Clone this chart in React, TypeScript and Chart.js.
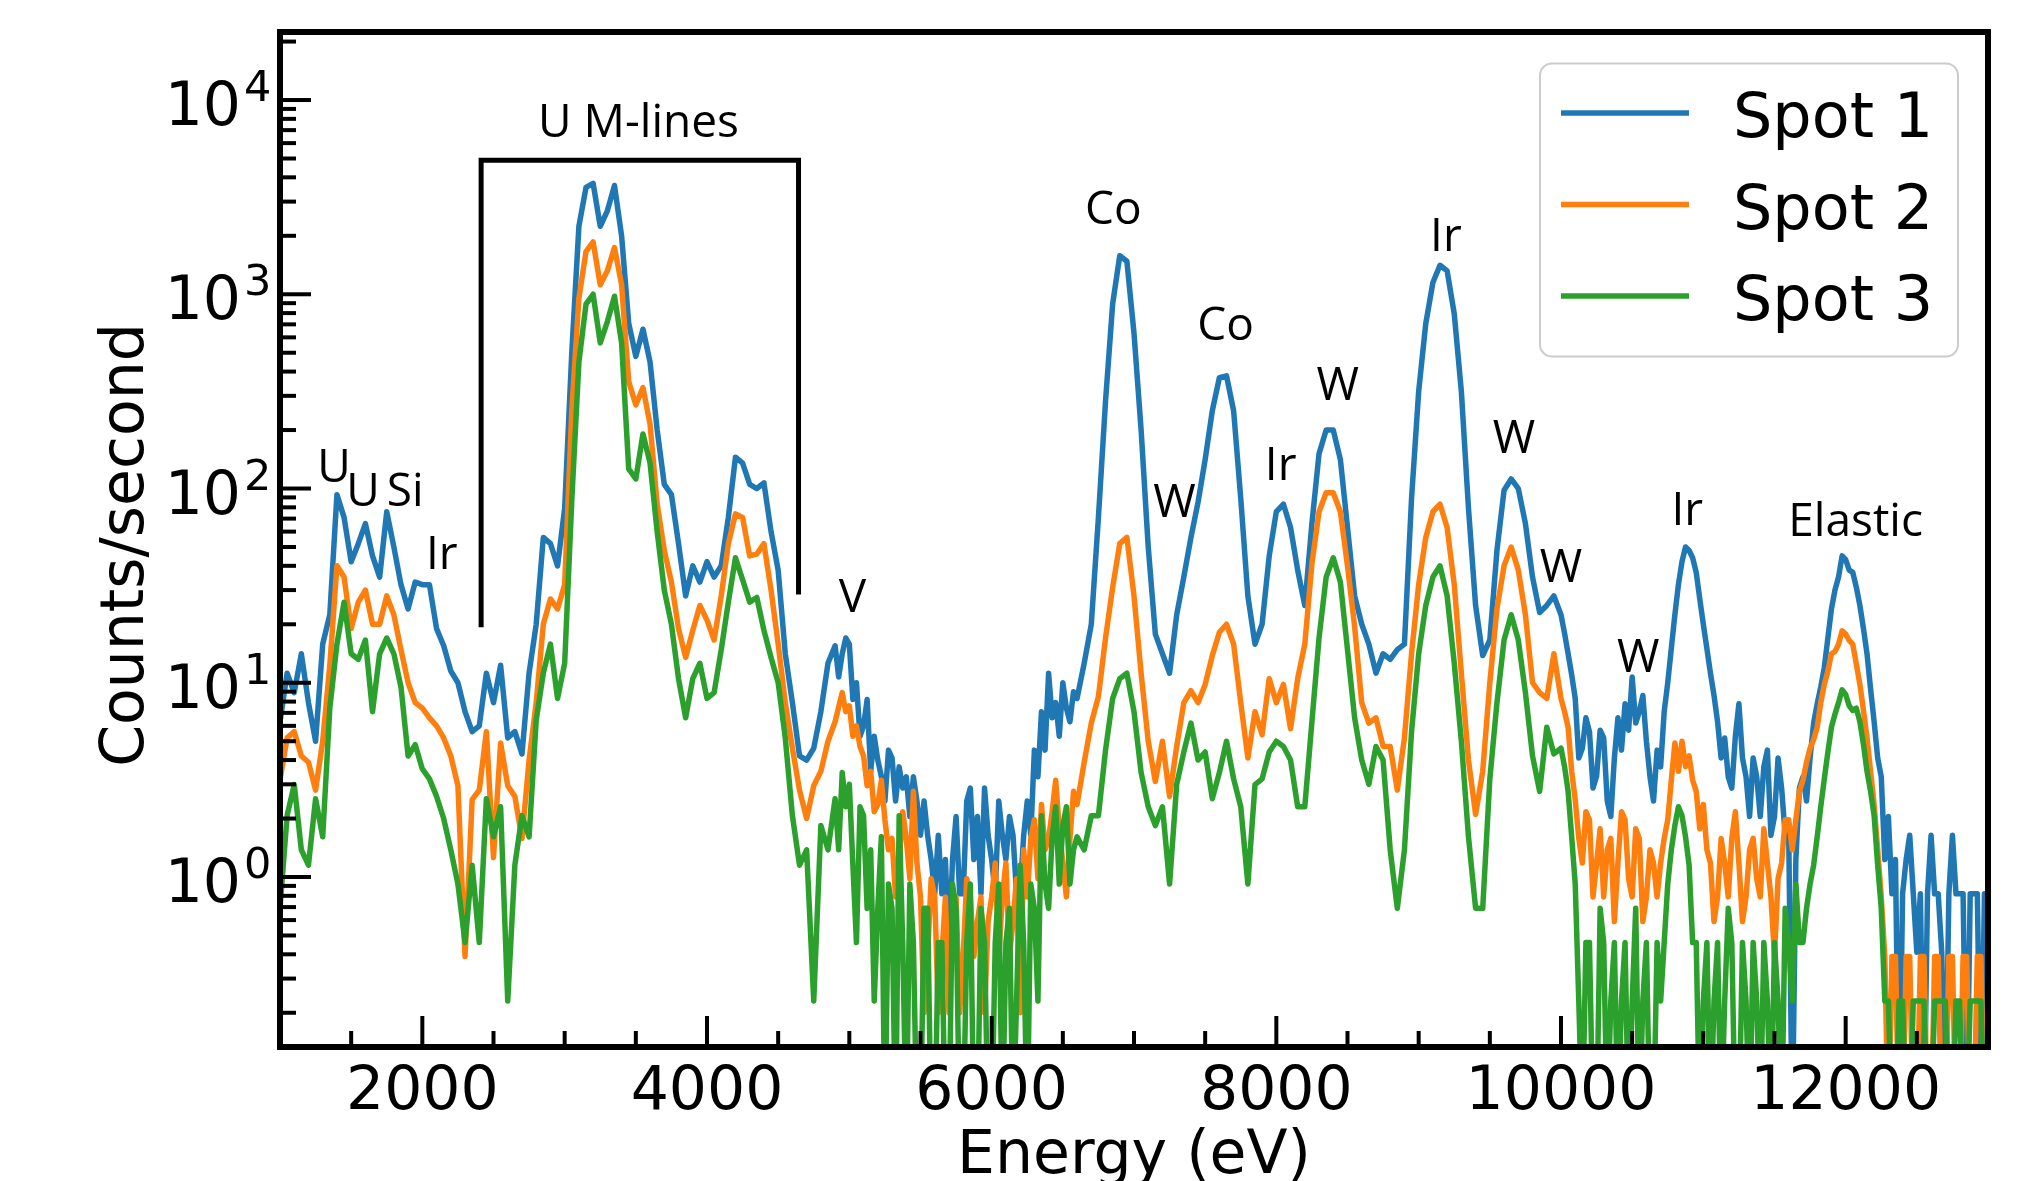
import React, { useEffect, useRef } from "react";
import { Chart, registerables } from "chart.js";

Chart.register(...registerables);

// ---------------- data ----------------
// energies: 50 eV steps, 25 eV steps in the noisy stretches
const ENERGY_EV = [
  1000, 1050, 1100, 1150, 1200, 1250, 1300, 1350, 1400, 1450, 1500, 1550, 1600, 1650, 1700, 1750, 1800, 1850, 1900, 1950,
  2000, 2050, 2100, 2150, 2200, 2250, 2300, 2350, 2400, 2450, 2500, 2550, 2600, 2650, 2700, 2750, 2800, 2850, 2900, 2950,
  3000, 3050, 3100, 3150, 3200, 3250, 3300, 3350, 3400, 3450, 3500, 3550, 3600, 3650, 3700, 3750, 3800, 3850, 3900, 3950,
  4000, 4050, 4100, 4150, 4200, 4250, 4300, 4350, 4400, 4450, 4500, 4550, 4600, 4650, 4700, 4750, 4800, 4850,
  4900, 4925, 4950, 4975, 5000, 5025, 5050, 5075, 5100, 5125, 5150, 5175, 5200, 5225, 5250, 5275, 5300, 5325, 5350, 5375,
  5400, 5425, 5450, 5475, 5500, 5525, 5550, 5575, 5600, 5625, 5650, 5675, 5700, 5725, 5750, 5775, 5800, 5825, 5850, 5875,
  5900, 5925, 5950, 5975, 6000, 6025, 6050, 6075, 6100, 6125, 6150, 6175, 6200, 6225, 6250, 6275, 6300, 6325, 6350, 6375,
  6400, 6425, 6450, 6475, 6500, 6525, 6550, 6575,
  6600, 6650, 6700, 6750, 6800, 6850, 6900, 6950,
  7000, 7050, 7100, 7150, 7200, 7250, 7300, 7350, 7400, 7450, 7500, 7550, 7600, 7650, 7700, 7750, 7800, 7850, 7900, 7950,
  8000, 8050, 8100, 8150, 8200, 8250, 8300, 8350, 8400, 8450, 8500, 8550, 8600, 8650, 8700, 8750, 8800, 8850, 8900, 8950,
  9000, 9050, 9100, 9150, 9200, 9250, 9300, 9350, 9400, 9450, 9500, 9550, 9600, 9650, 9700, 9750, 9800, 9850, 9900, 9950,
  10000, 10025, 10050, 10075, 10100, 10125, 10150, 10175, 10200, 10225, 10250, 10275, 10300, 10325, 10350, 10375, 10400, 10425, 10450, 10475,
  10500, 10525, 10550, 10575, 10600, 10625, 10650, 10675, 10700, 10725, 10750, 10775, 10800, 10825, 10850, 10875, 10900, 10925, 10950, 10975,
  11000, 11025, 11050, 11075, 11100, 11125, 11150, 11175, 11200, 11225, 11250, 11275, 11300, 11325, 11350, 11375, 11400, 11425, 11450, 11475,
  11500, 11525, 11550, 11575, 11600, 11625, 11650, 11675, 11700, 11725, 11750, 11775, 11800, 11825, 11850, 11875, 11900, 11925, 11950, 11975,
  12000, 12025, 12050, 12075, 12100, 12125, 12150, 12175, 12200, 12225, 12250, 12275, 12300, 12325, 12350, 12375, 12400, 12425, 12450, 12475,
  12500, 12525, 12550, 12575, 12600, 12625, 12650, 12675, 12700, 12725, 12750, 12775, 12800, 12825, 12850, 12875, 12900, 12925, 12950, 12975,
  13000,
];

// counts/second, Spot 1
const SPOT_1 = [
  6.3, 11.2, 8.9, 14.1, 7.9, 5.0, 15.8, 22.4, 93, 71, 42, 52, 66, 45, 35, 76, 50, 32, 24, 33,
  32, 32, 19, 15.5, 11.5, 10, 7.1, 5.6, 6.0, 11.2, 7.9, 12.3, 5.2, 5.6, 4.3, 11.2, 20, 56, 52, 40,
  79, 500, 2240, 3550, 3720, 2240, 2690, 3630, 2000, 708, 479, 661, 447, 200, 105, 93, 52, 28, 40, 33,
  42, 35, 40, 71, 145, 135, 105, 100, 107, 60, 38, 14.1, 7.9, 4.2, 4.0, 4.6, 7.1, 12.6,
  15.5, 10.7, 14.1, 17, 15.8, 8.2, 10, 5.3, 6.0, 8.2, 3.5, 5.3, 4.0, 3.3, 2.46, 4.5, 4.1, 2.46, 3.69, 2.87,
  3.28, 2.05, 3.28, 2.46, 1.64, 2.46, 1.64, 1.23, 0.82, 1.64, 0.82, 1.23, 0.41, 1.23, 2.05, 0.82, 0.82, 2.46, 2.87, 1.23,
  2.05, 0.82, 2.87, 1.64, 1.23, 0.82, 2.46, 1.64, 1.23, 2.05, 1.64, 0.82, 0.82, 1.64, 2.46, 1.64, 4.5, 3.28, 7.1, 4.5,
  11.2, 6.6, 7.9, 5.3, 10, 7.4, 6.3, 9.0,
  8.3, 12.6, 20, 71, 282, 891, 1580, 1480,
  631, 200, 50, 17.8, 14.1, 11.2, 22.4, 35, 56, 85, 141, 251, 372, 380, 251, 89, 28, 15.8, 20, 45,
  76, 83, 63, 38, 25, 66, 151, 200, 200, 141, 63, 28, 20, 15.8, 11.2, 14.1, 13.2, 14.8, 15.8, 89,
  316, 708, 1150, 1410, 1320, 794, 316, 79, 25, 13.8, 16.6, 48, 98, 112, 100, 66, 35, 23, 25, 28,
  22.4, 18, 14.1, 11, 8.3, 4.1, 4.6, 6.6, 5.6, 2.87, 3.3, 5.7, 5.2, 2.46, 2.05, 4.1, 6.6, 4.5, 7.8, 5.7,
  10.7, 6.2, 7.1, 8.6, 5.0, 3.3, 2.46, 4.5, 3.69, 7.1, 10, 15, 22.4, 32, 42, 50, 48, 44, 37, 27,
  20, 15, 11.2, 8.6, 6.3, 4.1, 5.2, 3.28, 2.87, 5.3, 7.8, 4.1, 3.28, 2.05, 4.1, 3.28, 2.05, 3.69, 4.5, 1.64,
  2.05, 4.1, 2.87, 1.64, 1.64, 0, 1.23, 2.87, 3.28, 2.46, 4.1, 6.2, 7.8, 9.5, 12, 17, 24, 30, 35, 45,
  43, 38, 37, 31, 25, 19, 14.1, 9.3, 6.3, 4.1, 3.28, 1.23, 2.05, 0.82, 1.23, 0, 0.82, 1.23, 1.64, 0.82,
  0.41, 0.82, 0, 0.82, 1.64, 0.82, 0.82, 0.41, 0, 0.82, 1.64, 0.82, 0.82, 0.82, 0, 0.82, 0.82, 0.82, 0, 0.82,
  0.82,
];

// counts/second, Spot 2
const SPOT_2 = [
  3.16, 5.2, 5.6, 4.2, 3.9, 2.8, 5.0, 12.3, 40, 35, 19, 26, 30, 20, 20, 28, 22.4, 14.8, 10, 7.9,
  7.4, 6.6, 6.0, 5.2, 4.2, 2.95, 0.39, 2.5, 2.8, 5.6, 1.26, 4.9, 2.95, 2.6, 1.58, 4.0, 7.9, 20, 27, 24,
  32, 251, 955, 1660, 1860, 1120, 1320, 1740, 1120, 355, 269, 331, 214, 83, 48, 33, 19, 13.5, 18.6, 25,
  21, 16.6, 28, 52, 74, 71, 45, 46, 52, 30, 15.8, 7.9, 4.6, 2.8, 2.0, 2.95, 3.5, 5.0,
  6.3, 7.5, 8.9, 7.1, 7.6, 5.3, 6.0, 4.7, 4.2, 2.95, 3.5, 2.17, 2.36, 3.15, 1.97, 1.38, 1.58, 0.79, 1.18, 2.17,
  1.58, 0.98, 2.76, 1.18, 0.79, 0.2, 0.39, 0.98, 0.79, 0.2, 0.39, 0.79, 0.2, 0.59, 0.79, 0.2, 0.39, 0.98, 0.79, 0.39,
  0.59, 0.79, 0.2, 0.59, 0.79, 1.18, 0.39, 0.79, 1.18, 0.39, 0.59, 0.98, 0.2, 1.38, 0.79, 1.58, 1.97, 0.98, 2.36, 1.38,
  1.58, 2.17, 3.15, 1.77, 1.18, 0.79, 1.58, 2.76,
  2.36, 3.9, 6.2, 8.5, 17, 31, 52, 56,
  28, 11.2, 5.0, 3.1, 5.0, 2.6, 4.7, 7.9, 9.1, 7.9, 9.8, 13.8, 18.2, 20, 15.8, 7.9, 4.1, 7.1, 5.4, 10.5,
  7.9, 9.8, 5.8, 10.5, 15.8, 41, 76, 95, 95, 76, 40, 19.5, 7.9, 6.2, 6.6, 4.7, 4.7, 2.8, 5.2, 14.1,
  32, 56, 76, 83, 63, 32, 11.2, 4.0, 2.1, 3.5, 10, 24, 40, 50, 38, 22.4, 10, 8.9, 8.3, 14.1,
  8.3, 7.1, 5.9, 3.5, 2.5, 1.58, 1.18, 2.17, 1.97, 0.79, 1.18, 1.77, 0.79, 1.38, 1.58, 0.59, 1.18, 2.17, 1.97, 0.98,
  0.79, 1.77, 1.58, 0.59, 0.79, 1.38, 1.18, 0.79, 1.18, 1.58, 1.97, 3.15, 4.9, 3.5, 5.0, 3.7, 4.2, 3.15, 2.76, 1.77,
  2.36, 1.38, 1.18, 0.59, 0.79, 1.58, 1.18, 0.79, 1.58, 2.17, 1.18, 0.59, 0.79, 1.38, 1.58, 0.98, 0.79, 1.77, 1.18, 0.79,
  0.39, 0.98, 1.18, 1.97, 1.97, 1.38, 1.97, 2.76, 3.15, 3.9, 4.6, 5.1, 5.9, 7.9, 9.8, 11.5, 14.1, 14.5, 15.8, 18.5,
  17.8, 16.5, 15.8, 12.5, 9.8, 7.2, 5.2, 3.5, 2.36, 1.38, 0.79, 0.39, 0, 0.39, 0.39, 0, 0, 0.39, 0.39, 0,
  0, 0.39, 0.39, 0, 0, 0.39, 0.39, 0, 0, 0.39, 0.39, 0, 0, 0.39, 0.39, 0, 0, 0.39, 0.39, 0,
  0,
];

// counts/second, Spot 3
const SPOT_3 = [
  0.69, 2.07, 2.99, 1.38, 1.15, 2.53, 1.61, 7.4, 15.8, 26, 14.1, 13.2, 16.6, 7.1, 14.1, 17, 14.1, 9.5, 4.2, 4.8,
  3.6, 3.2, 2.6, 2.0, 1.38, 0.92, 0.46, 1.15, 0.46, 2.53, 1.61, 2.3, 0.23, 1.15, 2.07, 1.61, 6.4, 11.2, 15.8, 8.3,
  12.6, 87, 447, 891, 1000, 562, 724, 977, 562, 126, 112, 191, 135, 60, 30, 20, 10.5, 6.6, 10.5, 12.6,
  8.3, 8.9, 14.8, 26, 44, 34, 26, 27.5, 18.6, 13.5, 10, 5.2, 2.07, 1.15, 1.38, 0.23, 1.84, 1.38,
  2.53, 1.38, 3.45, 2.3, 3.0, 1.15, 0.46, 2.3, 2.07, 0.69, 1.38, 0.23, 0.69, 1.61, 0, 0.92, 0.69, 0, 2.07, 0.46,
  0, 0.92, 0.46, 0, 0, 0.69, 0.69, 0, 0, 0.46, 0.46, 0, 0, 0.92, 0.69, 0, 0, 0.46, 0.92, 0,
  0, 0.69, 0.46, 0, 0, 0.46, 0.92, 0, 0.46, 0.69, 0, 0.23, 1.15, 0.46, 0, 0.92, 0.69, 0.23, 2.07, 0.92,
  0.69, 1.61, 2.3, 0.92, 1.84, 2.3, 0.92, 1.38,
  1.61, 1.38, 2.07, 2.07, 4.5, 8.3, 10.5, 11.2,
  7.1, 3.45, 2.3, 1.84, 2.3, 0.92, 3.0, 4.4, 6.2, 4.0, 4.4, 2.53, 3.45, 5.0, 3.2, 2.3, 0.92, 2.99, 3.2, 4.4,
  5.0, 4.7, 4.0, 2.3, 2.3, 6.3, 17, 35, 44, 33, 14.8, 6.6, 4.0, 3.0, 4.7, 4.0, 1.38, 0.69, 1.38, 5.6,
  14.1, 25, 35, 40, 28, 12.6, 5.0, 1.61, 0.69, 0.69, 3.2, 7.9, 16.6, 22.4, 16.6, 8.9, 4.2, 2.76, 5.9, 4.3,
  4.6, 3.7, 2.76, 1.61, 0.92, 0.23, 0, 0.46, 0.46, 0, 0, 0.69, 0.46, 0, 0.23, 0.46, 0, 0.23, 0.46, 0,
  0.23, 0.69, 0, 0.23, 0.46, 0, 0, 0.46, 0.23, 0.46, 0.92, 1.38, 1.84, 2.3, 2.07, 1.61, 1.15, 0.46, 0.46, 0,
  0.23, 0.46, 0, 0.23, 0.46, 0, 0.23, 0.69, 0.46, 0, 0, 0.46, 0.23, 0, 0.46, 0.23, 0, 0.46, 0.23, 0,
  0.46, 0.23, 0, 0.69, 0.46, 0.23, 0.92, 0.46, 0.46, 0.69, 0.92, 1.15, 1.61, 2.3, 3.2, 4.4, 5.9, 6.9, 7.9, 9.2,
  8.7, 7.6, 7.2, 7.4, 6.3, 4.8, 3.5, 2.76, 2.07, 1.15, 0.69, 0.23, 0.23, 0, 0, 0.23, 0.23, 0, 0, 0.23,
  0.23, 0.23, 0.23, 0, 0, 0.23, 0.23, 0.23, 0.23, 0, 0, 0.23, 0.23, 0, 0, 0.23, 0.23, 0.23, 0.23, 0,
  0,
];

const SERIES_NAMES = ["Spot 1", "Spot 2", "Spot 3"];
const SERIES_COLORS = ["#1f77b4", "#ff7f0e", "#2ca02c"];

const X_MIN = 1000;
const X_MAX = 13000;
const Y_MIN = 0.1333;
const Y_MAX = 22400;

const X_TICKS = [2000, 4000, 6000, 8000, 10000, 12000];
const X_MINOR_TICKS = [1500, 2500, 3000, 3500, 4500, 5000, 5500, 6500, 7000, 7500, 8500, 9000, 9500, 10500, 11000, 11500, 12500];
const Y_TICKS = [1, 10, 100, 1000, 10000];
const Y_TICK_BASE = "10";
const Y_TICK_EXPONENTS = ["0", "1", "2", "3", "4"];
const Y_MINOR_TICKS = [
  0.2, 0.3, 0.4, 0.5, 0.6, 0.7, 0.8, 0.9,
  2, 3, 4, 5, 6, 7, 8, 9,
  20, 30, 40, 50, 60, 70, 80, 90,
  200, 300, 400, 500, 600, 700, 800, 900,
  2000, 3000, 4000, 5000, 6000, 7000, 8000, 9000,
  20000,
];

const X_TITLE = "Energy (eV)";
const Y_TITLE = "Counts/second";

// peak annotations (text centre, in data coordinates)
const PEAK_LABELS = ["U", "U", "Si", "Ir", "U M-lines", "V", "Co", "W", "Co", "Ir", "W", "Ir", "W", "W", "W", "Ir", "Elastic"];
const PEAK_LABEL_ENERGY = [1380, 1584, 1880, 2137, 3519, 5022, 6855, 7285, 7643, 8030, 8431, 9191, 9670, 10000, 10543, 10887, 12070];
const PEAK_LABEL_COUNTS = [132, 99, 99, 47, 7890, 28, 2790, 87, 708, 135, 347, 2040, 186, 40, 13.8, 79, 69];

// bracket over the U M-lines
const BRACKET_ENERGY = [2413, 2413, 4643, 4643];
const BRACKET_COUNTS = [19.3, 4900, 4900, 28.5];

// zero counts cannot sit on a log axis: they are drawn below the axis floor
const ZERO_FLOOR = 0.05;

// ---------------- drawing ----------------
const decorPlugin = {
  id: "decor",
  afterDraw(chart: any) {
    const { ctx, chartArea: a } = chart;
    const xs = chart.scales.x;
    const ys = chart.scales.y;
    ctx.save();
    ctx.fillStyle = "#000";
    ctx.strokeStyle = "#000";

    // bracket
    ctx.lineWidth = 5;
    ctx.lineJoin = "miter";
    ctx.lineCap = "butt";
    ctx.beginPath();
    BRACKET_ENERGY.forEach((e, i) => {
      const px = xs.getPixelForValue(e);
      const py = ys.getPixelForValue(BRACKET_COUNTS[i]);
      if (i === 0) ctx.moveTo(px, py);
      else ctx.lineTo(px, py);
    });
    ctx.stroke();

    // peak labels
    ctx.font = '46px "Open Sans"';
    ctx.textAlign = "center";
    ctx.textBaseline = "alphabetic";
    PEAK_LABELS.forEach((t, i) => {
      ctx.fillText(t, xs.getPixelForValue(PEAK_LABEL_ENERGY[i]), ys.getPixelForValue(PEAK_LABEL_COUNTS[i]) + 16.5);
    });

    // frame
    ctx.lineWidth = 6;
    ctx.strokeRect(a.left, a.top, a.right - a.left, a.bottom - a.top);

    // ticks (pointing in)
    ctx.lineWidth = 4;
    const seg = (x1: number, y1: number, x2: number, y2: number) => {
      ctx.beginPath();
      ctx.moveTo(x1, y1);
      ctx.lineTo(x2, y2);
      ctx.stroke();
    };
    X_TICKS.forEach((v) => {
      const x = xs.getPixelForValue(v);
      seg(x, a.bottom, x, a.bottom - 31);
    });
    X_MINOR_TICKS.forEach((v) => {
      const x = xs.getPixelForValue(v);
      seg(x, a.bottom, x, a.bottom - 16);
    });
    Y_TICKS.forEach((v) => {
      const y = ys.getPixelForValue(v);
      seg(a.left, y, a.left + 31, y);
    });
    Y_MINOR_TICKS.forEach((v) => {
      const y = ys.getPixelForValue(v);
      seg(a.left, y, a.left + 16, y);
    });

    // tick labels
    ctx.font = '60px "DejaVu Sans"';
    ctx.textAlign = "center";
    X_TICKS.forEach((v) => {
      ctx.fillText(String(v), xs.getPixelForValue(v), a.bottom + 62);
    });
    Y_TICKS.forEach((v, i) => {
      const y = ys.getPixelForValue(v);
      ctx.font = '60px "DejaVu Sans"';
      ctx.textAlign = "right";
      ctx.fillText(Y_TICK_BASE, a.left - 39, y + 25);
      ctx.font = '43px "DejaVu Sans"';
      ctx.textAlign = "left";
      ctx.fillText(Y_TICK_EXPONENTS[i], a.left - 36, y + 1);
    });

    // axis titles
    ctx.font = '60px "DejaVu Sans"';
    ctx.textAlign = "center";
    ctx.fillText(X_TITLE, (a.left + a.right) / 2, 1173);
    ctx.save();
    ctx.translate(143, 545);
    ctx.rotate(-Math.PI / 2);
    ctx.fillText(Y_TITLE, 0, 0);
    ctx.restore();

    // legend
    const lx = 1540, ly = 63.5, lw = 418, lh = 293;
    ctx.beginPath();
    if (typeof ctx.roundRect === "function") ctx.roundRect(lx, ly, lw, lh, 12);
    else ctx.rect(lx, ly, lw, lh);
    ctx.fillStyle = "rgba(255,255,255,0.8)";
    ctx.fill();
    ctx.strokeStyle = "#cccccc";
    ctx.lineWidth = 2;
    ctx.stroke();
    ctx.font = '62px "DejaVu Sans"';
    ctx.textAlign = "left";
    chart.data.datasets.forEach((ds: any, k: number) => {
      const cy = 113 + k * 91.5;
      ctx.strokeStyle = ds.borderColor;
      ctx.lineWidth = 5.5;
      ctx.lineCap = "butt";
      seg(1561, cy, 1689, cy);
      ctx.fillStyle = "#000";
      ctx.fillText(ds.label, 1733, cy + 24);
    });

    ctx.restore();
  },
};

export default function App() {
  const ref = useRef<HTMLCanvasElement>(null);

  useEffect(() => {
    const canvas = ref.current;
    if (!canvas) return;
    const series = [SPOT_1, SPOT_2, SPOT_3];
    const chart = new Chart(canvas, {
      type: "line",
      data: {
        datasets: series.map((vals, k) => ({
          label: SERIES_NAMES[k],
          data: ENERGY_EV.map((e, i) => ({ x: e, y: vals[i] > 0 ? vals[i] : ZERO_FLOOR })),
          borderColor: SERIES_COLORS[k],
          backgroundColor: SERIES_COLORS[k],
          borderWidth: 5.5,
          pointRadius: 0,
          pointHoverRadius: 0,
          tension: 0,
          fill: false,
          borderJoinStyle: "round",
          order: 2 - k,
        })),
      },
      options: {
        animation: false,
        responsive: false,
        devicePixelRatio: 1,
        events: [],
        layout: { padding: { left: 280, top: 32, right: 43, bottom: 134 } },
        scales: {
          x: { type: "linear", min: X_MIN, max: X_MAX, display: false },
          y: { type: "logarithmic", min: Y_MIN, max: Y_MAX, display: false },
        },
        plugins: {
          legend: { display: false },
          tooltip: { enabled: false },
          title: { display: false },
        },
      },
      plugins: [decorPlugin],
    } as any);

    let alive = true;
    const fonts: any = (document as any).fonts;
    if (fonts && fonts.load) {
      Promise.all([
        fonts.load('60px "DejaVu Sans"'),
        fonts.load('46px "Open Sans"'),
      ])
        .then(() => {
          if (alive) chart.draw();
        })
        .catch(() => {});
    }
    return () => {
      alive = false;
      chart.destroy();
    };
  }, []);

  return (
    <div style={{ position: "fixed", left: 0, top: 0, width: 2031, height: 1181, background: "#ffffff" }}>
      <canvas ref={ref} width={2031} height={1181} style={{ display: "block", width: 2031, height: 1181 }} />
    </div>
  );
}
